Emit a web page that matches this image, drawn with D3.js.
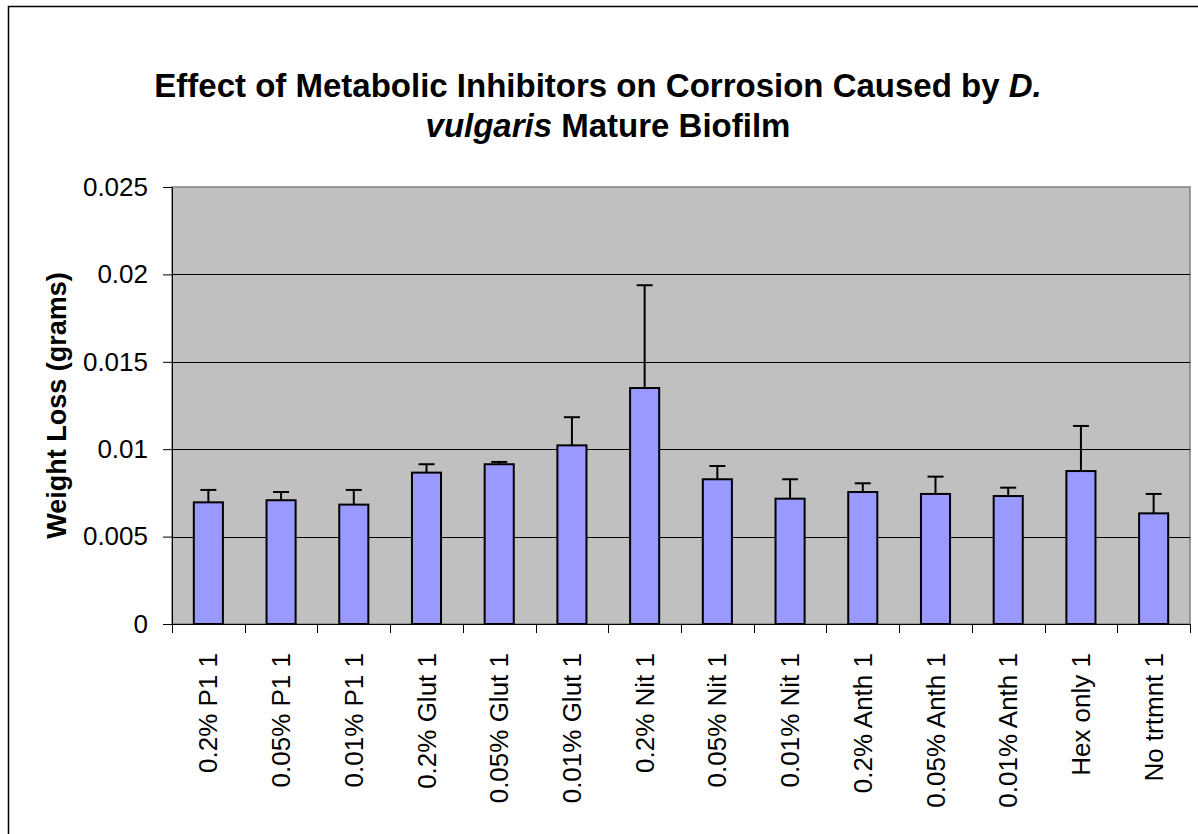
<!DOCTYPE html>
<html>
<head>
<meta charset="utf-8">
<script src="https://cdn.jsdelivr.net/npm/d3@7"></script>
<style>
  body { margin: 0; background: #fff; }
  svg { display: block; font-family: "Liberation Sans", Arial, sans-serif; }
</style>
</head>
<body>
<svg width="1198" height="834"></svg>
<script>
var categories = ["0.2% P1 1", "0.05% P1 1", "0.01% P1 1", "0.2% Glut 1", "0.05% Glut 1",
  "0.01% Glut 1", "0.2% Nit 1", "0.05% Nit 1", "0.01% Nit 1", "0.2% Anth 1",
  "0.05% Anth 1", "0.01% Anth 1", "Hex only 1", "No trtmnt 1"];
var weightLoss = [0.00696, 0.00708, 0.00683, 0.00866, 0.00914, 0.01022, 0.0135,
  0.00828, 0.00717, 0.00755, 0.00744, 0.00732, 0.00875, 0.00633];
var errUp = [0.00071, 0.00047, 0.00084, 0.00048, 0.00013, 0.00161, 0.00588,
  0.00076, 0.00111, 0.0005, 0.00099, 0.00048, 0.00258, 0.00111];
var yTicks = [0, 0.005, 0.01, 0.015, 0.02, 0.025];

var svg = d3.select("svg");
var margin = {top: 187, left: 172, right: 8, bottom: 210};
var width = 1190 - margin.left,
    height = 624 - margin.top;

// chart border, runs off the right and bottom edges like the original
svg.append("rect")
    .attr("x", 8.5).attr("y", 6.5)
    .attr("width", 1220).attr("height", 860)
    .attr("fill", "#fff")
    .attr("stroke", "#000")
    .attr("stroke-width", 1.5);

var x = d3.scaleBand()
    .domain(categories)
    .range([0, width])
    .paddingInner(0.6)
    .paddingOuter(0.3);

var y = d3.scaleLinear().domain([0, 0.025]).range([height, 0]);

var g = svg.append("g")
    .attr("transform", "translate(" + margin.left + "," + margin.top + ")");

g.append("rect")
    .attr("width", width)
    .attr("height", height)
    .attr("fill", "#c0c0c0")
    .attr("stroke", "#808080")
    .attr("stroke-width", 1.5);

// gridlines
g.selectAll(".grid")
    .data(yTicks.filter(function(d) { return d > 0 && d < 0.025; }))
    .enter().append("line")
    .attr("class", "grid")
    .attr("x1", 0).attr("x2", width)
    .attr("y1", function(d) { return Math.round(y(d)) + 0.5; })
    .attr("y2", function(d) { return Math.round(y(d)) + 0.5; })
    .attr("stroke", "#000")
    .attr("stroke-width", 1);

// bars
g.selectAll(".bar")
    .data(weightLoss)
    .enter().append("rect")
    .attr("class", "bar")
    .attr("x", function(d, i) { return x(categories[i]); })
    .attr("y", function(d) { return y(d); })
    .attr("width", x.bandwidth())
    .attr("height", function(d) { return height - y(d); })
    .attr("fill", "#9999ff")
    .attr("stroke", "#000")
    .attr("stroke-width", 2);

// error bars (plus direction only)
var err = g.selectAll(".err")
    .data(weightLoss)
    .enter().append("g")
    .attr("class", "err")
    .attr("transform", function(d, i) { return "translate(" + (x(categories[i]) + x.bandwidth() / 2) + ",0)"; });

err.append("line")
    .attr("x1", 0).attr("x2", 0)
    .attr("y1", function(d) { return y(d); })
    .attr("y2", function(d, i) { return y(d + errUp[i]); })
    .attr("stroke", "#000")
    .attr("stroke-width", 2);

err.append("line")
    .attr("x1", -8).attr("x2", 8)
    .attr("y1", function(d, i) { return y(d + errUp[i]); })
    .attr("y2", function(d, i) { return y(d + errUp[i]); })
    .attr("stroke", "#000")
    .attr("stroke-width", 2);

// y axis
var yAxis = d3.axisLeft(y)
    .tickValues(yTicks)
    .tickFormat(function(d) { return d === 0 ? "0" : String(+d.toFixed(3)); })
    .tickSizeInner(9)
    .tickSizeOuter(0)
    .tickPadding(15);

g.append("g")
    .attr("class", "axis axis--y")
    .call(yAxis)
    .call(function(s) {
      s.selectAll("line, path").attr("stroke", "#000");
      s.selectAll("text").attr("font-size", 26).attr("fill", "#000")
        .attr("font-family", "Liberation Sans, Arial, sans-serif");
    });

// x axis: labels at band centres, ticks at band edges
var xAxis = d3.axisBottom(x).tickSize(0).tickPadding(0);
var xa = g.append("g")
    .attr("class", "axis axis--x")
    .attr("transform", "translate(0," + height + ")")
    .call(xAxis);
xa.select(".domain").attr("stroke", "#000");
xa.selectAll("text")
    .attr("font-size", 26)
    .attr("fill", "#000")
    .attr("font-family", "Liberation Sans, Arial, sans-serif")
    .attr("transform", "rotate(-90)")
    .attr("x", -29)
    .attr("y", 0)
    .attr("dy", "0.35em")
    .style("text-anchor", "end");

var edges = categories.map(function(c) { return x(c) - x.step() * 0.3; }).concat([width]);
xa.selectAll(".edge")
    .data(edges)
    .enter().append("line")
    .attr("class", "edge")
    .attr("x1", function(d) { return Math.round(d) + 0.5; })
    .attr("x2", function(d) { return Math.round(d) + 0.5; })
    .attr("y1", 0).attr("y2", 9)
    .attr("stroke", "#000");

// y axis title
svg.append("text")
    .attr("transform", "translate(66," + (margin.top + height / 2) + ") rotate(-90)")
    .attr("text-anchor", "middle")
    .attr("font-size", 27)
    .attr("font-weight", "bold")
    .text("Weight Loss (grams)");

// chart title
var title = svg.append("text")
    .attr("text-anchor", "middle")
    .attr("font-size", 33)
    .attr("font-weight", "bold");

var l1 = title.append("tspan").attr("x", 598).attr("y", 97);
l1.append("tspan").text("Effect of Metabolic Inhibitors on Corrosion Caused by ");
l1.append("tspan").attr("font-style", "italic").text("D.");

var l2 = title.append("tspan").attr("x", 608).attr("y", 137);
l2.append("tspan").attr("font-style", "italic").text("vulgaris");
l2.append("tspan").text(" Mature Biofilm");
</script>
</body>
</html>
